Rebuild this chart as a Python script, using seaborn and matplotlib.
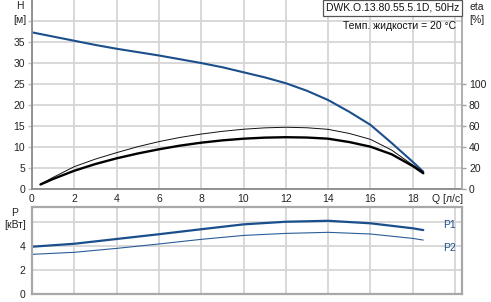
import numpy as np
import pandas as pd
import matplotlib
matplotlib.use("Agg")
import matplotlib.pyplot as plt
import seaborn as sns

# ---- data ----
q_h = [0, 1, 2, 3, 4, 5, 6, 7, 8, 9, 10, 11, 12, 13, 14, 15, 16, 17, 18, 18.5]
head = [37.2, 36.2, 35.2, 34.2, 33.3, 32.5, 31.7, 30.8, 29.9, 28.9, 27.7, 26.5,
        25.1, 23.3, 21.1, 18.3, 15.2, 10.9, 6.4, 4.05]

q_eta = [0.4, 1, 2, 3, 4, 5, 6, 7, 8, 9, 10, 11, 12, 13, 14, 15, 16, 17, 18, 18.5]
eta_thick = [4.0, 9.3, 17.1, 23.5, 28.9, 33.5, 37.5, 41.0, 43.8, 46.0, 47.6, 48.6,
             49.0, 48.7, 47.6, 44.4, 40.0, 32.8, 21.6, 14.7]
eta_thin = [4.4, 10.8, 21.0, 28.2, 34.3, 40.0, 44.8, 48.8, 52.0, 54.6, 56.6, 57.9,
            58.5, 58.0, 56.5, 52.6, 47.0, 36.8, 22.6, 16.2]

q_p = [0, 2, 4, 6, 8, 10, 12, 14, 16, 18, 18.5]
p1 = [3.95, 4.2, 4.6, 5.0, 5.42, 5.83, 6.05, 6.13, 5.92, 5.5, 5.35]
p2 = [3.31, 3.48, 3.81, 4.18, 4.57, 4.9, 5.07, 5.16, 5.02, 4.65, 4.51]

x_ticks = [0, 2, 4, 6, 8, 10, 12, 14, 16, 18, 20]
x_labels = ["0", "2", "4", "6", "8", "10", "12", "14", "16", "18", ""]
h_ticks = [0, 5, 10, 15, 20, 25, 30, 35, 40]
h_labels = ["0", "5", "10", "15", "20", "25", "30", "35", ""]
eta_ticks = [0, 20, 40, 60, 80, 100]
p_ticks = [0, 2, 4, 6]
p_labels = ["0", "2", "4", ""]

# ---- style ----
sns.set_style("white")
plt.rcParams["font.family"] = ["Liberation Sans", "DejaVu Sans"]
plt.rcParams["font.size"] = 7.5

W, H = 491, 302
fig = plt.figure(figsize=(W / 100, H / 100), dpi=100)

def fx(px):
    return px / W

def fy(py):
    return 1 - py / H

blue = "#1b4f8c"
grid_c = "#d6d6d6"
tick_c = "#222222"

# top axes
ax = fig.add_axes([fx(32), fy(188.7), fx(430), 188.7 / H])
ax2 = ax.twinx()
axp = fig.add_axes([fx(32), fy(293.7), fx(430), (293.7 - 207) / H])

df_h = pd.DataFrame({"Q": q_h, "H": head})
df_e = pd.DataFrame({"Q": q_eta, "thick": eta_thick, "thin": eta_thin})
df_p = pd.DataFrame({"Q": q_p, "P1": p1, "P2": p2})

sns.lineplot(data=df_h, x="Q", y="H", ax=ax, color=blue, lw=1.5, legend=False, sort=False)
sns.lineplot(data=df_e, x="Q", y="thin", ax=ax2, color="#111111", lw=0.7, legend=False, sort=False)
sns.lineplot(data=df_e, x="Q", y="thick", ax=ax2, color="#000000", lw=1.7, legend=False, sort=False)
sns.lineplot(data=df_p, x="Q", y="P1", ax=axp, color=blue, lw=1.6, legend=False, sort=False)
sns.lineplot(data=df_p, x="Q", y="P2", ax=axp, color="#2c5d96", lw=0.8, legend=False, sort=False)

xmax = 430 / 21.15
for a in (ax, axp):
    a.set_xlim(0, xmax)
    a.set_xticks(x_ticks)
    a.grid(True, color=grid_c, lw=1.3)
    a.set_axisbelow(True)
    a.set_xlabel("")
    a.set_ylabel("")

ax.set_ylim(0, 44.9)
ax.set_yticks(h_ticks)
ax.set_yticklabels(h_labels)
ax.set_xticklabels(x_labels)
ax.tick_params(axis="x", length=0, pad=4, labelcolor=tick_c, labelsize=7.5)
ax.tick_params(axis="y", length=3, width=1, color="#c0c0c0", pad=2, labelcolor=tick_c, labelsize=7.5)
for s in ("left", "bottom"):
    ax.spines[s].set_color("#8a8a8a")
    ax.spines[s].set_linewidth(1.3)
ax.spines["top"].set_visible(False)
ax.spines["right"].set_visible(False)

ax2.set_ylim(0, 179.6)
ax2.set_yticks(eta_ticks)
ax2.set_ylabel("")
ax2.grid(False)
ax2.tick_params(axis="y", length=3, width=1, color="#a0a0a0", pad=2, labelcolor=tick_c, labelsize=7.5)
ax2.spines["right"].set_color("#a8a8a8")
ax2.spines["right"].set_linewidth(1.3)
for s in ("top", "left", "bottom"):
    ax2.spines[s].set_visible(False)

axp.set_ylim(0, 7.29)
axp.set_yticks(p_ticks)
axp.set_yticklabels(p_labels)
axp.set_xticklabels([])
axp.tick_params(axis="x", length=0)
axp.tick_params(axis="y", length=3, width=1, color="#c0c0c0", pad=2, labelcolor=tick_c, labelsize=7.5)
for s in axp.spines.values():
    s.set_color("#a8a8a8")
    s.set_linewidth(1.6)

# texts
fig.text(fx(20), fy(6), "H", ha="center", va="center", color=tick_c, fontsize=7.5)
fig.text(fx(20), fy(20), "[м]", ha="center", va="center", color=tick_c, fontsize=7.5)
fig.text(fx(469), fy(7), "eta", ha="left", va="center", color=tick_c, fontsize=7.5)
fig.text(fx(469), fy(20), "[%]", ha="left", va="center", color=tick_c, fontsize=7.5)
fig.text(fx(448), fy(199), "Q [л/с]", ha="center", va="center", color=tick_c, fontsize=7.5)
fig.text(fx(15), fy(213), "P", ha="center", va="center", color=tick_c, fontsize=7.5)
fig.text(fx(15), fy(225), "[кВт]", ha="center", va="center", color=tick_c, fontsize=7.5)
fig.text(fx(443), fy(225), "P1", ha="left", va="center", color=blue, fontsize=7.5)
fig.text(fx(443), fy(248), "P2", ha="left", va="center", color=blue, fontsize=7.5)
fig.text(fx(459), fy(8), "DWK.O.13.80.55.5.1D, 50Hz", ha="right", va="center",
         color="#111111", fontsize=7.5,
         bbox=dict(boxstyle="square,pad=0.3", fc="white", ec="#555555", lw=0.9))
fig.text(fx(456), fy(26), "Темп. жидкости = 20 °C", ha="right", va="center",
         color="#111111", fontsize=7.5)

fig.savefig("out.png", dpi=100, facecolor="white")
